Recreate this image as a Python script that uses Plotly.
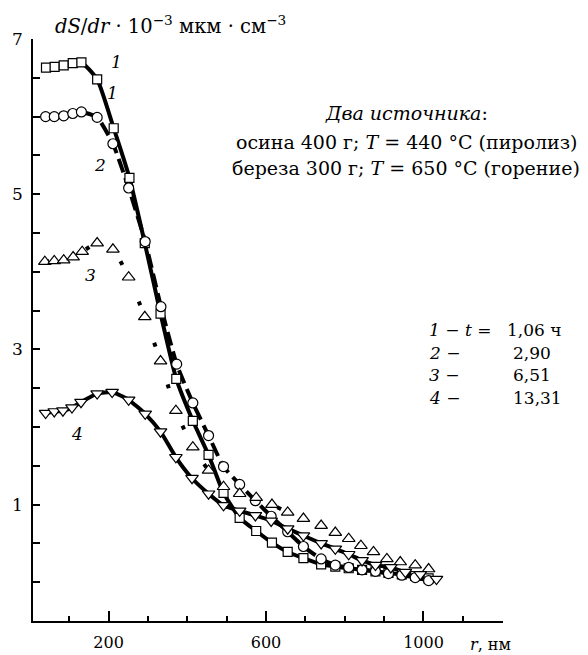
import plotly.graph_objects as go

# ---- data (r in nm, dS/dr in 10^-3 mkm*cm^-3) ----
r1 = [41, 63, 86, 109, 131, 171, 213, 253, 292, 332, 372, 414, 454, 492, 533, 575, 615, 655, 695, 740, 776, 810, 844, 878, 911, 945, 979, 1013]
s1 = [6.63, 6.64, 6.66, 6.69, 6.70, 6.48, 5.85, 5.21, 4.37, 3.46, 2.62, 2.08, 1.64, 1.15, 0.83, 0.66, 0.51, 0.39, 0.31, 0.23, 0.20, 0.18, 0.16, 0.14, 0.12, 0.10, 0.08, 0.05]

r2 = [40, 62, 86, 109, 131, 171, 211, 251, 293, 333, 373, 414, 454, 492, 533, 573, 613, 655, 695, 740, 776, 810, 844, 878, 911, 945, 979, 1013]
s2 = [6.00, 6.00, 6.01, 6.04, 6.06, 5.99, 5.65, 5.08, 4.39, 3.55, 2.81, 2.31, 1.89, 1.49, 1.26, 1.05, 0.85, 0.65, 0.46, 0.30, 0.22, 0.19, 0.16, 0.14, 0.11, 0.09, 0.06, 0.02]

r3 = [38, 62, 86, 110, 133, 171, 211, 251, 292, 332, 371, 414, 454, 492, 533, 575, 615, 655, 695, 740, 776, 810, 841, 873, 907, 941, 979, 1013]
s3 = [4.13, 4.14, 4.15, 4.19, 4.26, 4.37, 4.29, 3.93, 3.42, 2.85, 2.21, 1.74, 1.44, 1.23, 1.14, 1.09, 1.00, 0.90, 0.82, 0.73, 0.64, 0.56, 0.47, 0.39, 0.30, 0.26, 0.22, 0.17]

r4 = [40, 62, 84, 107, 130, 171, 209, 251, 293, 332, 371, 412, 454, 492, 533, 573, 613, 655, 695, 740, 776, 810, 844, 878, 917, 954, 992, 1033]
s4 = [2.18, 2.20, 2.21, 2.25, 2.32, 2.43, 2.45, 2.35, 2.17, 1.94, 1.61, 1.34, 1.14, 0.99, 0.92, 0.86, 0.79, 0.69, 0.60, 0.50, 0.43, 0.36, 0.28, 0.22, 0.19, 0.13, 0.10, 0.04]

x_ticks = [200, 600, 1000]
y_ticks = [1, 3, 5, 7]

FONT = "DejaVu Serif"

series = [
    (r1, s1, "square", 9, "solid"),
    (r2, s2, "circle", 10, "14px,6px"),
    (r3, s3, "triangle-up", 11, "4px,40px"),
    (r4, s4, "triangle-down", 11, "solid"),
]

fig = go.Figure()
# lines first
for r, s, sym, sz, dash in series:
    fig.add_trace(go.Scatter(x=r, y=s, mode="lines",
                             line=dict(color="black", width=4, dash=dash, shape="spline", smoothing=0.5),
                             hoverinfo="skip", showlegend=False))
# markers on top
for r, s, sym, sz, dash in series:
    fig.add_trace(go.Scatter(x=r, y=s, mode="markers",
                             marker=dict(symbol=sym, size=sz, color="white",
                                         line=dict(color="black", width=1.2)),
                             showlegend=False))

ann = []
def A(text, x, y, xref="x", yref="y", xanchor="center", yanchor="middle", size=17):
    ann.append(dict(text=text, x=x, y=y, xref=xref, yref=yref, xanchor=xanchor,
                    yanchor=yanchor, showarrow=False,
                    font=dict(family=FONT, size=size, color="black")))

# curve labels
A("<i>1</i>", 220, 6.71)
A("<i>1</i>", 209, 6.30)
A("<i>2</i>", 179, 5.38)
A("<i>3</i>", 154, 3.96)
A("<i>4</i>", 121, 1.91)

# source text
A("<i>Два источника</i>:", 0.794, 0.873, "paper", "paper", size=19)
A("осина 400 г; <i>T</i> = 440 °C (пиролиз)", 0.794, 0.8235, "paper", "paper", size=19)
A("береза 300 г; <i>T</i> = 650 °C (горение)", 0.794, 0.7784, "paper", "paper", size=19)

# time legend
rows_y = [0.5, 0.4605, 0.4227, 0.3832]
A("<i>1</i> − <i>t</i> =", 0.838, rows_y[0], "paper", "paper", xanchor="left")
A("<i>2</i> −", 0.838, rows_y[1], "paper", "paper", xanchor="left")
A("<i>3</i> −", 0.838, rows_y[2], "paper", "paper", xanchor="left")
A("<i>4</i> −", 0.838, rows_y[3], "paper", "paper", xanchor="left")
A("1,06 ч", 1.004, rows_y[0], "paper", "paper", xanchor="left")
A("2,90", 1.016, rows_y[1], "paper", "paper", xanchor="left")
A("6,51", 1.016, rows_y[2], "paper", "paper", xanchor="left")
A("13,31", 1.016, rows_y[3], "paper", "paper", xanchor="left")

# axis titles
A("<i>dS</i>/<i>dr</i> · 10<sup>−3</sup> мкм · см<sup>−3</sup>", 0.0426, 1.024, "paper", "paper",
  xanchor="left", size=19.5)
A("<i>r</i>, нм", 0.926, -0.041, "paper", "paper", xanchor="left", size=16)

fig.update_layout(
    width=588, height=655,
    margin=dict(l=33, r=85, t=39, b=34),
    plot_bgcolor="white", paper_bgcolor="white",
    annotations=ann,
    font=dict(family=FONT, size=16, color="black"),
    xaxis=dict(range=[8, 1202], showgrid=False, zeroline=False, automargin=False,
               showline=True, linecolor="black", linewidth=1.5,
               tickvals=x_ticks, ticks="inside", ticklen=10, tickwidth=1.5, tickcolor="black",
               minor=dict(dtick=100, tick0=0, ticks="inside", ticklen=5, tickwidth=1.5, tickcolor="black"),
               tickfont=dict(family=FONT, size=16), ticklabelstandoff=6),
    yaxis=dict(range=[-0.5, 7.0], showgrid=False, zeroline=False, automargin=False,
               showline=True, linecolor="black", linewidth=1.5,
               tickvals=y_ticks, ticks="inside", ticklen=7, tickwidth=1.5, tickcolor="black",
               minor=dict(dtick=0.5, tick0=0, ticks="inside", ticklen=7, tickwidth=1.5, tickcolor="black"),
               tickfont=dict(family=FONT, size=17), ticklabelstandoff=5),
)

fig.write_html("out.html", config={"displayModeBar": False},
               post_script="document.body.style.margin='0px';")
